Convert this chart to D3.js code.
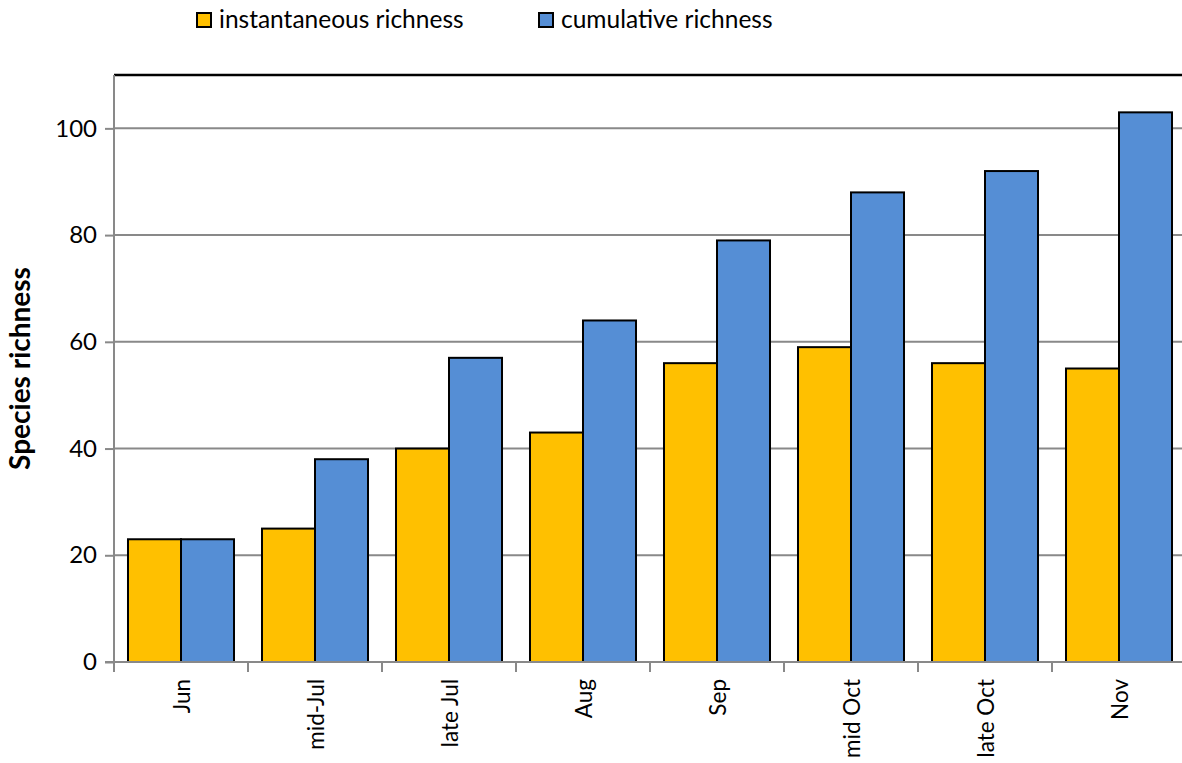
<!DOCTYPE html>
<html>
<head>
<meta charset="utf-8">
<script src="https://cdn.jsdelivr.net/npm/d3@7"></script>
<style>
  body { margin: 0; background: #fff; }
  text { font-family: Lato, "Open Sans", sans-serif; }
</style>
</head>
<body>
<div id="chart"></div>
<script>
const categories = ["Jun", "mid-Jul", "late Jul", "Aug", "Sep", "mid Oct", "late Oct", "Nov"]
const seriesNames = ["instantaneous richness", "cumulative richness"]
const instantaneous = [23, 25, 40, 43, 56, 59, 56, 55]
const cumulative = [23, 38, 57, 64, 79, 88, 92, 103]
const yTicks = [0, 20, 40, 60, 80, 100]
const colors = ["#FFC000", "#558ED5"]

const width = 1182, height = 763
const plot = { left: 114, right: 1186, top: 75, bottom: 662 } // 绘图区

const svg = d3.select("#chart").append("svg")
  .attr("width", width)
  .attr("height", height)
  .attr("viewBox", [0, 0, width, height])

const x0 = d3.scaleBand().domain(categories).range([plot.left, plot.right])
const x1 = d3.scaleBand().domain(seriesNames).range([0, x0.bandwidth()]).paddingOuter(0.264)
const y = d3.scaleLinear().domain([0, 110]).range([plot.bottom, plot.top])

// gridlines
svg.append("g")
  .selectAll("line")
  .data(yTicks.filter(d => d > 0))
  .join("line")
  .attr("x1", plot.left).attr("x2", plot.right)
  .attr("y1", d => y(d)).attr("y2", d => y(d))
  .attr("stroke", "#898989").attr("stroke-width", 2)

// top border
svg.append("line")
  .attr("x1", plot.left).attr("x2", plot.right)
  .attr("y1", plot.top).attr("y2", plot.top)
  .attr("stroke", "#000").attr("stroke-width", 2.5)

// bars
const rows = categories.map((c, i) => ({ cat: c, values: [instantaneous[i], cumulative[i]] }))
svg.append("g")
  .selectAll("g")
  .data(rows)
  .join("g")
  .attr("transform", d => `translate(${x0(d.cat)},0)`)
  .selectAll("rect")
  .data(d => d.values.map((v, k) => ({ key: seriesNames[k], v, k })))
  .join("rect")
  .attr("x", d => x1(d.key))
  .attr("y", d => y(d.v))
  .attr("width", x1.bandwidth())
  .attr("height", d => y(0) - y(d.v))
  .attr("fill", d => colors[d.k])
  .attr("stroke", "#000")
  .attr("stroke-width", 2)

// y axis
const yAxis = d3.axisLeft(y).tickValues(yTicks).tickSize(9).tickPadding(8).tickSizeOuter(0)
svg.append("g")
  .attr("transform", `translate(${plot.left},0)`)
  .call(yAxis)
  .call(g => g.select(".domain").attr("stroke", "#898989").attr("stroke-width", 2)
    .attr("d", `M0,${plot.top}V${plot.bottom}`))
  .call(g => g.selectAll(".tick line").attr("stroke", "#898989").attr("stroke-width", 2))
  .call(g => g.selectAll(".tick text").attr("font-size", 24).attr("fill", "#000")
    .style("font-family", "Lato, 'Open Sans', sans-serif"))

// x axis: ticks on category boundaries
svg.append("g")
  .selectAll("line")
  .data(d3.range(categories.length + 1))
  .join("line")
  .attr("x1", i => plot.left + i * x0.step()).attr("x2", i => plot.left + i * x0.step())
  .attr("y1", plot.bottom).attr("y2", plot.bottom + 10)
  .attr("stroke", "#898989").attr("stroke-width", 2)
svg.append("line")
  .attr("x1", plot.left - 9).attr("x2", plot.right)
  .attr("y1", plot.bottom).attr("y2", plot.bottom)
  .attr("stroke", "#898989").attr("stroke-width", 2)

svg.append("g")
  .selectAll("text")
  .data(categories)
  .join("text")
  .attr("transform", d => `translate(${x0(d) + x0.bandwidth() / 2 + 9},${plot.bottom + 17}) rotate(-90)`)
  .attr("text-anchor", "end")
  .attr("font-size", 22.5)
  .text(d => d)

// y title
svg.append("text")
  .attr("transform", `translate(30,${(plot.top + plot.bottom) / 2}) rotate(-90)`)
  .attr("text-anchor", "middle")
  .attr("font-size", 28)
  .attr("font-weight", "bold")
  .text("Species richness")

// legend
const legendX = [197, 539]
const legend = svg.append("g")
  .selectAll("g")
  .data(seriesNames)
  .join("g")
  .attr("transform", (d, i) => `translate(${legendX[i]},13)`)
legend.append("rect")
  .attr("width", 14).attr("height", 14)
  .attr("fill", (d, i) => colors[i])
  .attr("stroke", "#000").attr("stroke-width", 2)
legend.append("text")
  .attr("x", 22).attr("y", 15)
  .attr("font-size", 24.5)
  .text(d => d)
</script>
</body>
</html>
